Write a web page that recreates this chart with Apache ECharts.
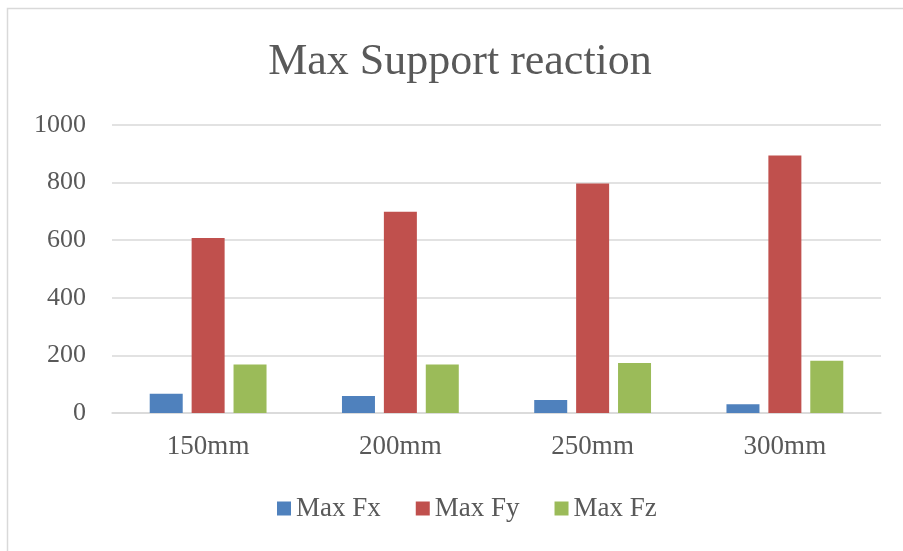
<!DOCTYPE html>
<html>
<head>
<meta charset="utf-8">
<script src="https://cdn.jsdelivr.net/npm/echarts@6/dist/echarts.min.js"></script>
<style>
html,body{margin:0;padding:0;background:#fff;}
#chart{width:903px;height:551px;}
</style>
</head>
<body>
<div id="chart"></div>
<script>
// Support reactions per span length
const categories = ['150mm', '200mm', '250mm', '300mm'];
const maxFx = [67, 59, 45, 30];
const maxFy = [608, 699, 797, 894];
const maxFz = [168, 168, 174, 181];
const yTicks = [0, 200, 400, 600, 800, 1000];

const serif = "'Liberation Serif', 'Times New Roman', serif";
const textColor = '#595959';
const gridColor = '#d9d9d9';

const chart = echarts.init(document.getElementById('chart'));
chart.setOption({
  backgroundColor: '#ffffff',
  animation: false,
  title: {
    text: 'Max Support reaction',
    left: 455,
    textAlign: 'center',
    top: 35,
    textStyle: { fontFamily: serif, fontSize: 44, fontWeight: 'normal', color: textColor }
  },
  graphic: [{
    type: 'rect',
    shape: { x: 7.5, y: 8.5, width: 1000, height: 1000 },
    style: { fill: 'none', stroke: gridColor, lineWidth: 1.5 },
    silent: true
  }],
  legend: {
    left: 277,
    top: 495,
    padding: 0,
    itemWidth: 14,
    itemHeight: 14,
    itemGap: 35,
    icon: 'rect',
    textStyle: { fontFamily: serif, fontSize: 27, color: textColor },
    data: ['Max Fx', 'Max Fy', 'Max Fz']
  },
  grid: { left: 112, right: 22, top: 125, bottom: 138 },
  xAxis: {
    type: 'category',
    data: categories,
    axisLine: { show: true, lineStyle: { color: gridColor, width: 1.5 } },
    axisTick: { show: false },
    axisLabel: { margin: 20, fontFamily: serif, fontSize: 27, color: textColor }
  },
  yAxis: {
    type: 'value',
    min: yTicks[0],
    max: yTicks[yTicks.length - 1],
    interval: 200,
    axisLine: { show: false },
    axisTick: { show: false },
    splitLine: { lineStyle: { color: gridColor, width: 1.5 } },
    axisLabel: {
      margin: 26, fontFamily: serif, fontSize: 26, color: textColor,
      formatter: v => String(v)
    }
  },
  series: [
    { name: 'Max Fx', type: 'bar', data: maxFx, barWidth: 33, barGap: '27%', itemStyle: { color: '#4f81bd' } },
    { name: 'Max Fy', type: 'bar', data: maxFy, barWidth: 33, barGap: '27%', itemStyle: { color: '#c0504d' } },
    { name: 'Max Fz', type: 'bar', data: maxFz, barWidth: 33, barGap: '27%', itemStyle: { color: '#9bbb59' } }
  ]
});
</script>
</body>
</html>
